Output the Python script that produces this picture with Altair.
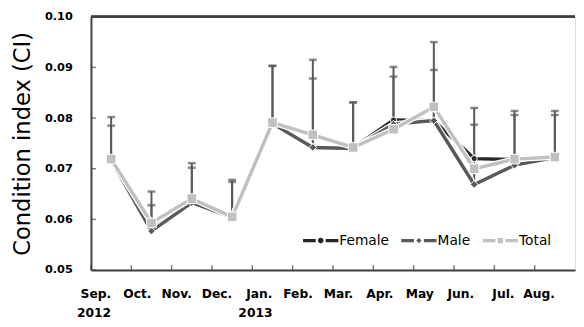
import altair as alt
import pandas as pd

# ---- data ----
months = ["Sep.|2012", "Oct.", "Nov.", "Dec.", "Jan.|2013", "Feb.", "Mar.",
          "Apr.", "May", "Jun.", "Jul.", "Aug."]
female = [0.0718, 0.0580, 0.0634, 0.0604, 0.0790, 0.0744, 0.0741, 0.0796, 0.0795, 0.0720, 0.0718, 0.0723]
male   = [0.0717, 0.0577, 0.0633, 0.0604, 0.0789, 0.0742, 0.0740, 0.0788, 0.0795, 0.0669, 0.0707, 0.0722]
total  = [0.0719, 0.0593, 0.0641, 0.0605, 0.0791, 0.0767, 0.0742, 0.0778, 0.0822, 0.0700, 0.0719, 0.0723]
sd_top_a = [0.0802, 0.0655, 0.0711, 0.0678, 0.0903, 0.0915, 0.0831, 0.0901, 0.0950, 0.0820, 0.0814, 0.0814]
sd_top_b = [0.0785, 0.0628, 0.0702, 0.0674, 0.0903, 0.0878, 0.0831, 0.0882, 0.0895, 0.0787, 0.0806, 0.0806]
series_names = ["Female", "Male", "Total"]
series_colors = ["#262626", "#595959", "#c0c0c0"]
series_shapes = ["circle", "diamond", "square"]
series_sizes = [38, 60, 95]
y_ticks = [0.05, 0.06, 0.07, 0.08, 0.09, 0.10]

# legend glyphs: line segment + marker
legend_paths = [
    "M-1,-0.09H-0.28V0.09H-1Z M0.28,-0.09H1V0.09H0.28Z M-0.16,0A0.16,0.16 0 1,0 0.16,0A0.16,0.16 0 1,0 -0.16,0Z",
    "M-1,-0.09H-0.28V0.09H-1Z M0.28,-0.09H1V0.09H0.28Z M0,-0.15L0.15,0L0,0.15L-0.15,0Z",
    "M-1,-0.09H-0.28V0.09H-1Z M0.28,-0.09H1V0.09H0.28Z M-0.15,-0.15H0.15V0.15H-0.15Z",
]

rows = []
for i, m in enumerate(months):
    for s, vals in zip(series_names, [female, male, total]):
        rows.append({"month": m, "series": s, "value": vals[i]})
df = pd.DataFrame(rows)
err = pd.DataFrame({"month": months, "female": female, "male": male,
                    "top_a": sd_top_a, "top_b": sd_top_b})
ticks_df = pd.DataFrame({"t": y_ticks})
months_df = pd.DataFrame({"month": months})

AX = "#404040"
FONT = "DejaVu Sans"

xscale = alt.Scale(type="band", domain=months, paddingInner=0, paddingOuter=0)
yscale = alt.Scale(domain=[0.05, 0.10], nice=False, zero=False)

x_axis = alt.Axis(title=None, domainColor=AX, domainWidth=2, ticks=False, grid=False,
                  labelAngle=0, labelExpr="split(datum.label, '|')",
                  labelFont=FONT, labelFontSize=12.5, labelFontWeight="bold",
                  labelColor="black", labelPadding=18, labelLineHeight=19,
                  labelBaseline="top")
y_axis = alt.Axis(title="Condition index (CI)", values=y_ticks, format=".2f",
                  domainColor=AX, domainWidth=2, ticks=False, grid=False,
                  labelFont=FONT, labelFontSize=11.5, labelFontWeight="bold",
                  labelColor="black", labelPadding=19,
                  titleFont=FONT, titleFontSize=23, titleFontWeight="normal",
                  titleColor="black", titlePadding=10)

X = alt.X("month:N", scale=xscale, axis=x_axis, sort=months)
Y = alt.Y("value:Q", scale=yscale, axis=y_axis)

base = alt.Chart(df)

layers = []

# top border
layers.append(alt.Chart(ticks_df).mark_rule(color=AX, strokeWidth=2)
              .encode(y=alt.datum(0.10, scale=yscale)))

# inward ticks on x axis
layers.append(alt.Chart(months_df).mark_tick(orient="vertical", color=AX, thickness=1.5,
                                             size=5, yOffset=-2.5)
              .encode(x=alt.X("month:N", scale=xscale, bandPosition=0, sort=months),
                      y=alt.datum(0.05)))
# inward ticks on y axis
layers.append(alt.Chart(ticks_df).mark_tick(orient="horizontal", color=AX, thickness=1.5,
                                            size=5, xOffset=2.5)
              .encode(y=alt.Y("t:Q", scale=yscale), x=alt.value(0)))

# error bars
ecol = "#595959"
for lo, hi in [("female", "top_a"), ("male", "top_b")]:
    layers.append(alt.Chart(err).mark_rule(color=ecol, strokeWidth=2)
                  .encode(x=alt.X("month:N", scale=xscale, sort=months),
                          y=alt.Y(f"{lo}:Q", scale=yscale), y2=f"{hi}:Q"))
    layers.append(alt.Chart(err).mark_tick(orient="horizontal", color=ecol, thickness=2.5, size=8)
                  .encode(x=alt.X("month:N", scale=xscale, sort=months),
                          y=alt.Y(f"{hi}:Q", scale=yscale)))

# series lines and markers
for name, col, shp, sz in zip(series_names, series_colors, series_shapes, series_sizes):
    sub = base.transform_filter(alt.datum.series == name)
    layers.append(sub.mark_line(color="white", strokeWidth=6).encode(x=X, y=Y))
    layers.append(sub.mark_line(color=col, strokeWidth=3.5).encode(x=X, y=Y))
    layers.append(sub.mark_point(shape=shp, filled=True, color=col, size=sz, opacity=1,
                                 stroke="white", strokeWidth=1).encode(x=X, y=Y))

# invisible layer that carries the legend
leg = dict(title=None, orient="none", direction="horizontal",
           legendX=216, legendY=210, symbolSize=1296,
           symbolOpacity=1, symbolStrokeWidth=0,
           labelFont=FONT, labelFontSize=14, labelColor="black",
           labelOffset=1, columnPadding=12, padding=0)
layers.append(base.mark_point(filled=True, opacity=0, size=1296).encode(
    x=X, y=Y,
    color=alt.Color("series:N", scale=alt.Scale(domain=series_names, range=series_colors),
                    legend=alt.Legend(**leg)),
    shape=alt.Shape("series:N", scale=alt.Scale(domain=series_names, range=legend_paths),
                    legend=alt.Legend(**leg)),
))

chart = alt.layer(*layers).properties(
    width=493, height=258,
    padding={"left": 3.5, "top": 0, "right": 0, "bottom": 0},
).configure_view(strokeWidth=0).configure(background="white")

chart.save("out.html", embed_options={"renderer": "svg", "actions": False})
